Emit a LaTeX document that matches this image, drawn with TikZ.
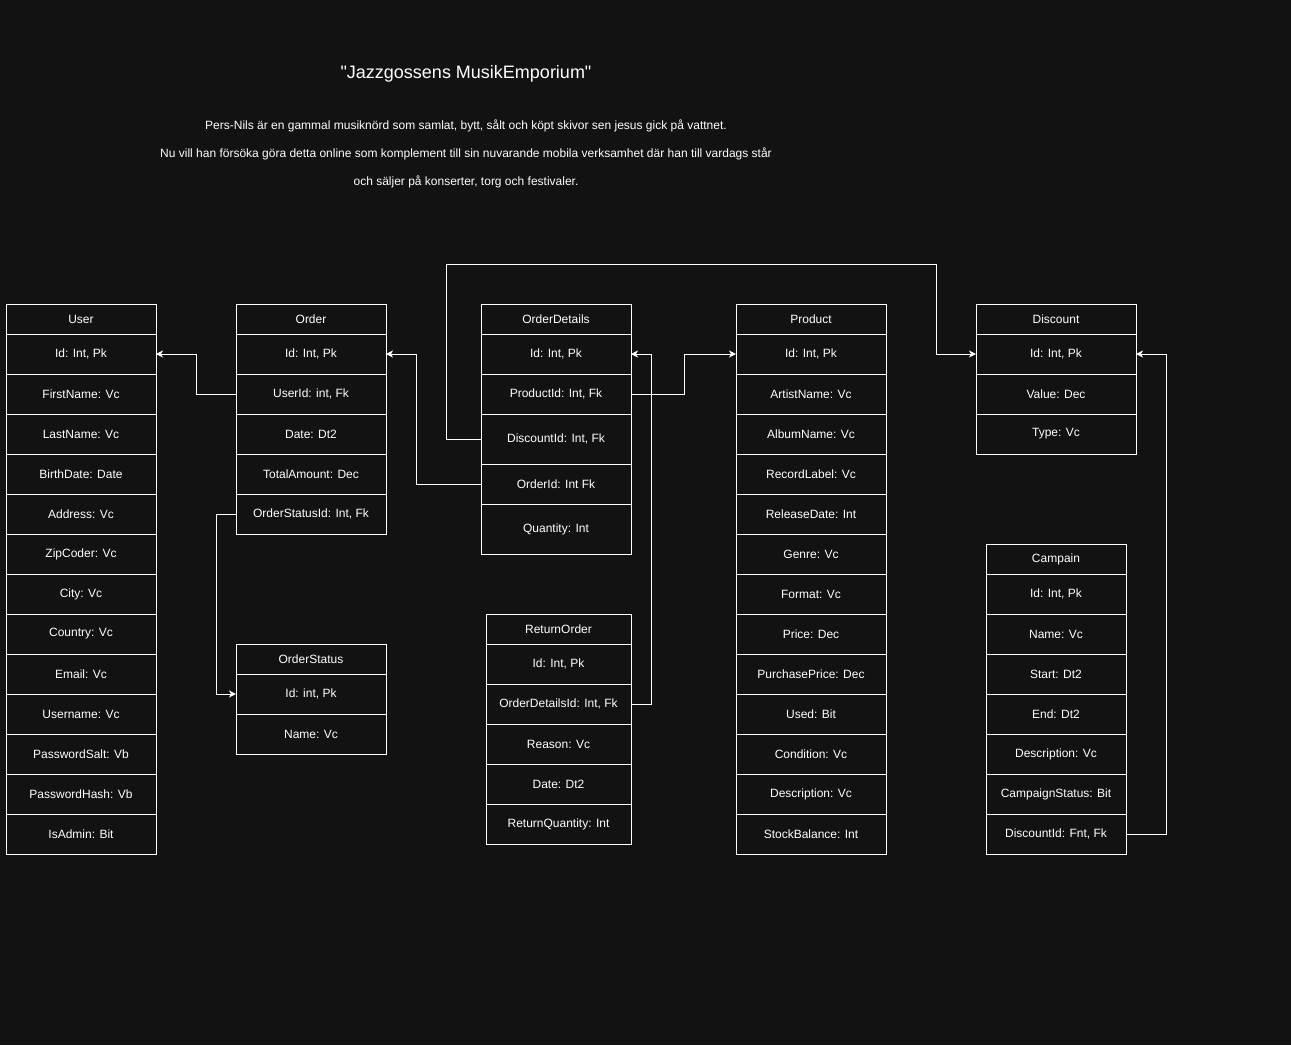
\documentclass[tikz,border=0pt]{standalone}
\usepackage{fontspec}
\setmainfont{Liberation Sans}[Ligatures=TeXOff]
\usetikzlibrary{positioning, arrows.meta}
\definecolor{bgdark}{RGB}{18,18,18}
\tikzset{
    every node/.style={text=white, font=\fontsize{12}{14}\selectfont}, % white text everywhere
    tabhead/.style={draw=white, line width=1pt, minimum width=150pt, minimum height=30pt,
        inner sep=0pt, outer sep=0pt, anchor=north west}, % table title cell
    tabrow/.style={tabhead, minimum height=40pt}, % one field of a table
    rel/.style={draw=white, line width=1pt, -{Stealth[length=7pt, width=7pt, inset=2pt]}}, % key link
}
\begin{document}
\begin{tikzpicture}[x=1pt, y=-1pt]
\fill[bgdark] (0,0) rectangle (1291,1045);

% heading
\node[font=\fontsize{18}{22}\selectfont] (title) at (466,74) {"Jazzgossens MusikEmporium"};
\node (line1) at (466,126) {Pers-Nils är en gammal musiknörd som samlat, bytt, sålt och köpt skivor sen jesus gick på vattnet.};
\node (line2) at (466,154) {Nu vill han försöka göra detta online som komplement till sin nuvarande mobila verksamhet där han till vardags står};
\node (line3) at (466,182) {och säljer på konserter, torg och festivaler.};

% User
\node[tabhead] (u0) at (6,304) {User};
\foreach \t [count=\i, remember=\i as \p (initially 0)] in {{Id: Int, Pk}, FirstName: Vc, LastName: Vc,
    BirthDate: Date, Address: Vc, ZipCoder: Vc, City: Vc, Country: Vc, Email: Vc, Username: Vc,
    PasswordSalt: Vb, PasswordHash: Vb, IsAdmin: Bit}
    \node[tabrow, anchor=north, below=0pt of u\p] (u\i) {\t};

% Order
\node[tabhead] (o0) at (236,304) {Order};
\foreach \t [count=\i, remember=\i as \p (initially 0)] in {{Id: Int, Pk}, {UserId: int, Fk}, Date: Dt2,
    TotalAmount: Dec, {OrderStatusId: Int, Fk}}
    \node[tabrow, anchor=north, below=0pt of o\p] (o\i) {\t};

% OrderStatus
\node[tabhead] (os0) at (236,644) {OrderStatus};
\node[tabrow, anchor=north, below=0pt of os0] (os1) {Id: int, Pk};
\node[tabrow, anchor=north, below=0pt of os1] (os2) {Name: Vc};

% OrderDetails
\node[tabhead] (od0) at (481,304) {OrderDetails};
\node[tabrow, anchor=north, below=0pt of od0] (od1) {Id: Int, Pk};
\node[tabrow, anchor=north, below=0pt of od1] (od2) {ProductId: Int, Fk};
\node[tabrow, anchor=north, below=0pt of od2, minimum height=50pt] (od3) {DiscountId: Int, Fk};
\node[tabrow, anchor=north, below=0pt of od3] (od4) {OrderId: Int Fk};
\node[tabrow, anchor=north, below=0pt of od4, minimum height=50pt] (od5) {Quantity: Int};

% ReturnOrder
\node[tabhead, minimum width=145pt] (r0) at (486,614) {ReturnOrder};
\foreach \t [count=\i, remember=\i as \p (initially 0)] in {{Id: Int, Pk}, {OrderDetailsId: Int, Fk},
    Reason: Vc, Date: Dt2, ReturnQuantity: Int}
    \node[tabrow, minimum width=145pt, anchor=north, below=0pt of r\p] (r\i) {\t};

% Product
\node[tabhead] (p0) at (736,304) {Product};
\foreach \t [count=\i, remember=\i as \p (initially 0)] in {{Id: Int, Pk}, ArtistName: Vc, AlbumName: Vc,
    RecordLabel: Vc, ReleaseDate: Int, Genre: Vc, Format: Vc, Price: Dec, PurchasePrice: Dec,
    Used: Bit, Condition: Vc, Description: Vc, StockBalance: Int}
    \node[tabrow, anchor=north, below=0pt of p\p] (p\i) {\t};

% Discount
\node[tabhead, minimum width=160pt] (d0) at (976,304) {Discount};
\foreach \t [count=\i, remember=\i as \p (initially 0)] in {{Id: Int, Pk}, Value: Dec, Type: Vc}
    \node[tabrow, minimum width=160pt, anchor=north, below=0pt of d\p] (d\i) {\t};

% Campain
\node[tabhead, minimum width=140pt] (c0) at (986,544) {Campain};
\foreach \t [count=\i, remember=\i as \p (initially 0)] in {{Id: Int, Pk}, Name: Vc, Start: Dt2,
    End: Dt2, Description: Vc, CampaignStatus: Bit, {DiscountId: Fnt, Fk}}
    \node[tabrow, minimum width=140pt, anchor=north, below=0pt of c\p] (c\i) {\t};

% links
\coordinate (loopleft) at (446,264);
\coordinate (loopright) at (936,264);
\draw[rel] (o2.west) -- ++(-40,0) |- (u1.east);
\draw[rel] (o5.west) -- ++(-20,0) |- (os1.west);
\draw[rel] (od4.west) -- ++(-65,0) |- (o1.east);
\draw[rel] (od3.west) -| (loopleft) -- (loopright) |- (d1.west);
\draw[rel] (od2.east) -- ++(53,0) |- (p1.west);
\draw[rel] (r2.east) -- ++(20,0) |- (od1.east);
\draw[rel] (c7.east) -- ++(40,0) |- (d1.east);
\end{tikzpicture}
\end{document}
